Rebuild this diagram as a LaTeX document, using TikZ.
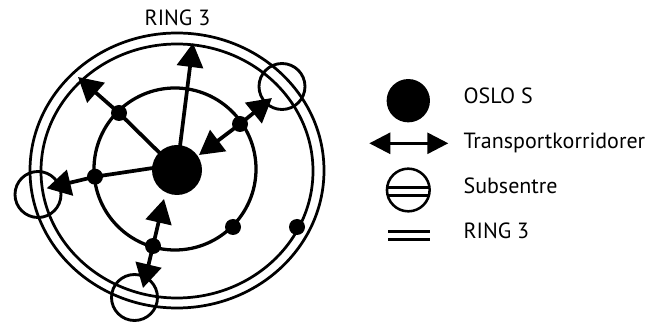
\documentclass[tikz,border=0pt]{standalone}
\usepackage{fontspec}
\setmainfont{PT Sans}
\usetikzlibrary{arrows.meta,backgrounds}

\tikzset{
  ringline/.style={line width=2.05pt},
  innerring/.style={line width=2.45pt},
  corridor/.style={line width=2.8pt},
  bighead/.tip={Triangle[length=18pt,width=19.5pt]},
  smallhead/.tip={Triangle[length=15.75pt,width=15.75pt]},
  hubdot/.style={circle,fill=black,inner sep=0pt,minimum size=37.5pt},
  stopdot/.style={circle,fill=black,inner sep=0pt,minimum size=12pt},
  subcentre/.style={circle,draw=black,line width=2.15pt,inner sep=0pt,minimum size=34.5pt},
  label/.style={inner sep=0pt,anchor=base west,font=\fontsize{16.5pt}{20pt}\selectfont},
}

\begin{document}
\begin{tikzpicture}[x=0.75pt,y=-0.75pt]
\useasboundingbox (0,0) rectangle (646,327);

% ---- map: centre, stops and sub-centres
\node[hubdot] (oslo) at (177,170) {};
\node[stopdot] (d1) at (119,113) {};
\node[stopdot] (d2) at (240,124) {};
\node[stopdot] (d3) at (95,176.7) {};
\node[stopdot] (d4) at (153,246) {};
\node[stopdot] (d5) at (233,227) {};
\node[stopdot] (d6) at (297,227) {};

\node[subcentre] (s1) at (282,86.5) {};
\node[subcentre] (s2) at (38,194.5) {};
\node[subcentre] (s3) at (134.5,297.5) {};

% arrow tip positions
\coordinate (tipT) at (193,43);
\coordinate (tipUL) at (78,77);
\coordinate (tipL) at (46.7,188.3);
\coordinate (tipTRin) at (199,155);
\coordinate (tipTRout) at (272,98);
\coordinate (tipBin) at (164,199);
\coordinate (tipBout) at (143,288);
\coordinate (legL) at (369.3,143.3);
\coordinate (legR) at (448.3,143.3);

\begin{scope}[on background layer]
  % Ring 3 (double line) and inner ring
  \draw[ringline] (177,170.5) ellipse [x radius=110.25pt, y radius=103.125pt];
  \draw[ringline] (177,171) ellipse [x radius=102pt, y radius=95.25pt];
  \draw[innerring] (175,169) circle [radius=60.75pt];
  % transport corridors
  \draw[corridor,-{bighead}] (oslo.center) -- (tipT);
  \draw[corridor,-{bighead}] (oslo.center) -- (d1.center) -- (tipUL);
  \draw[corridor,-{bighead}] (163,166.5) -- (d3.center) -- (tipL);
  \draw[corridor,{bighead}-{bighead}] (tipTRin) -- (d2.center) -- (tipTRout);
  \draw[corridor,{bighead}-{bighead}] (tipBin) -- (d4.center) -- (tipBout);
\end{scope}

\node[inner sep=0pt,anchor=base,font=\fontsize{16.5pt}{20pt}\selectfont] (title) at (177.5,26) {RING 3};

% ---- legend
\node[circle,fill=black,inner sep=0pt,minimum size=32.5pt] (lhub) at (408.3,100.7) {};
\draw[line width=2.1pt,{smallhead}-{smallhead}] (legL) -- (legR);
\node[circle,draw=black,line width=1.9pt,inner sep=0pt,minimum size=32pt] (lsub) at (408.3,190) {};
\begin{scope}
  \clip (lsub.center) circle [radius=16pt];
  \draw[line width=1.9pt] (385,187.3) -- (432,187.3);
  \draw[line width=1.9pt] (385,195.7) -- (432,195.7);
\end{scope}
\coordinate (lr1) at (388.3,231.7);
\coordinate (lr2) at (430,231.7);
\coordinate (lr3) at (388.3,239.3);
\coordinate (lr4) at (430,239.3);
\draw[line width=2.1pt] (lr1) -- (lr2);
\draw[line width=2.1pt] (lr3) -- (lr4);

\node[label] (t1) at (463.3,103.3) {OSLO S};
\node[label] (t2) at (463.3,148.3) {Transportkorridorer};
\node[label] (t3) at (463.3,193.3) {Subsentre};
\node[label] (t4) at (463.3,238.3) {RING 3};
\end{tikzpicture}
\end{document}
